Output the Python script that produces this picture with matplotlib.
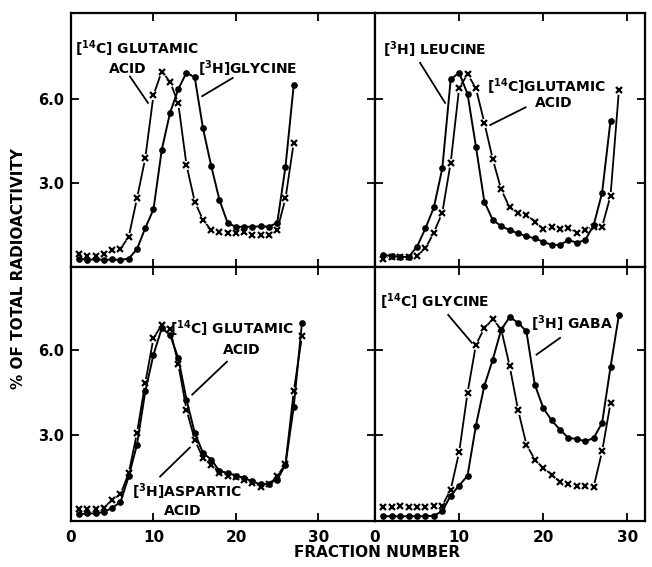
import matplotlib
matplotlib.use("Agg")
import matplotlib.pyplot as plt

plt.rcParams['font.family'] = ['DejaVu Sans']
plt.rcParams['font.weight'] = 'bold'
plt.rcParams['mathtext.default'] = 'bf'

# top left: [3H]glycine (dots) vs [14C]glutamic acid (crosses)
frac_tl = list(range(1, 28))
gly_3h = [0.3, 0.25, 0.28, 0.25, 0.27, 0.25, 0.3, 0.64, 1.39, 2.06, 4.18, 5.5, 6.35, 6.94,
          6.77, 4.95, 3.6, 2.39, 1.56, 1.44, 1.43, 1.44, 1.45, 1.44, 1.58, 3.58, 6.5]
glu_14c_tl = [0.45, 0.4, 0.4, 0.45, 0.6, 0.65, 1.08, 2.45, 3.88, 6.14, 6.98, 6.62, 5.85, 3.64,
              2.33, 1.68, 1.32, 1.26, 1.2, 1.22, 1.26, 1.14, 1.14, 1.14, 1.32, 2.45, 4.44]

# top right: [3H]leucine vs [14C]glutamic acid
frac_leu = list(range(1, 29))
leu_3h = [0.42, 0.4, 0.36, 0.36, 0.73, 1.38, 2.13, 3.52, 6.7, 6.94, 6.18, 4.3, 2.33, 1.68,
          1.46, 1.32, 1.2, 1.1, 1.02, 0.9, 0.79, 0.79, 0.96, 0.87, 0.96, 1.5, 2.65, 5.23]
frac_glu_tr = list(range(1, 30))
glu_14c_tr = [0.3, 0.35, 0.35, 0.35, 0.4, 0.67, 1.23, 1.94, 3.73, 6.38, 6.89, 6.38, 5.15, 3.85,
              2.77, 2.13, 1.92, 1.86, 1.62, 1.35, 1.44, 1.35, 1.39, 1.23, 1.32, 1.44, 1.44,
              2.54, 6.32]

# bottom left: [3H]aspartic acid vs [14C]glutamic acid
frac_bl = list(range(1, 29))
asp_3h = [0.22, 0.25, 0.25, 0.3, 0.45, 0.65, 1.56, 2.68, 4.55, 5.85, 6.78, 6.55, 5.73, 4.26,
          3.09, 2.38, 2.15, 1.74, 1.68, 1.58, 1.5, 1.38, 1.27, 1.3, 1.44, 1.97, 4.02, 6.98]
glu_14c_bl = [0.42, 0.42, 0.4, 0.45, 0.74, 0.92, 1.68, 3.09, 4.85, 6.43, 6.9, 6.75, 5.53, 3.9,
              2.85, 2.2, 1.97, 1.68, 1.58, 1.53, 1.42, 1.33, 1.19, 1.27, 1.56, 2.0, 4.55, 6.5]

# bottom right: [3H]GABA vs [14C]glycine
frac_gaba = list(range(1, 30))
gaba_3h = [0.15, 0.15, 0.15, 0.15, 0.15, 0.15, 0.17, 0.33, 0.88, 1.23, 1.58, 3.35, 4.75, 5.67,
           6.73, 7.17, 6.98, 6.67, 4.79, 3.97, 3.53, 3.2, 2.91, 2.88, 2.79, 2.91, 3.44, 5.41, 7.25]
frac_gly_br = list(range(1, 29))
gly_14c = [0.48, 0.48, 0.52, 0.48, 0.48, 0.48, 0.5, 0.52, 1.09, 2.4, 4.5, 6.2, 6.78, 7.1,
           6.75, 5.46, 3.91, 2.68, 2.15, 1.85, 1.62, 1.35, 1.27, 1.21, 1.21, 1.19, 2.44, 4.14]

xticks = [0, 10, 20, 30]
yticks = [3.0, 6.0]
ytick_labels = ["3.0", "6.0"]


def draw_dots(ax, x, y):
    ax.plot(x, y, color='black', lw=1.4, marker='o', ms=3.8, zorder=5)


def draw_crosses(ax, x, y):
    # line broken around each cross
    ax.plot(x, y, color='black', lw=1.3, zorder=2)
    ax.plot(x, y, ls='none', marker='o', ms=6.5, mfc='white', mec='none', zorder=3)
    ax.plot(x, y, ls='none', marker='x', ms=4.5, mew=1.6, color='black', zorder=4)


def label(ax, line1, line2, x1, y1, x2, y2, lx1, ly1, lx2, ly2):
    ax.text(x1, y1, line1, ha='left', va='center', fontsize=10, zorder=6)
    if line2:
        ax.text(x2, y2, line2, ha='center', va='center', fontsize=10, zorder=6)
    ax.plot([lx1, lx2], [ly1, ly2], color='black', lw=1.3, zorder=6)


fig = plt.figure(figsize=(6.52, 5.67), dpi=100)
L, M, R = 71 / 652, 375 / 652, 645 / 652
T, H, B = 1 - 12.7 / 567, 1 - 267 / 567, 1 - 520.5 / 567
ax_tl = fig.add_axes([L, H, M - L, T - H])
ax_tr = fig.add_axes([M, H, R - M, T - H])
ax_bl = fig.add_axes([L, B, M - L, H - B])
ax_br = fig.add_axes([M, B, R - M, H - B])

draw_crosses(ax_tl, frac_tl, glu_14c_tl)
draw_dots(ax_tl, frac_tl, gly_3h)
label(ax_tl, r"[$^{14}$C] GLUTAMIC", "ACID", 0.5, 7.8, 6.9, 7.08, 7.15, 6.8, 9.33, 5.86)
label(ax_tl, r"[$^{3}$H]GLYCINE", None, 15.4, 7.07, 0, 0, 19.6, 6.75, 15.9, 6.1)

draw_crosses(ax_tr, frac_glu_tr, glu_14c_tr)
draw_dots(ax_tr, frac_leu, leu_3h)
label(ax_tr, r"[$^{3}$H] LEUCINE", None, 0.95, 7.75, 0, 0, 5.36, 7.29, 8.33, 5.86)
label(ax_tr, r"[$^{14}$C]GLUTAMIC", "ACID", 13.3, 6.45, 21.2, 5.85, 17.9, 5.7, 13.7, 5.07)

draw_crosses(ax_bl, frac_bl, glu_14c_bl)
draw_dots(ax_bl, frac_bl, asp_3h)
label(ax_bl, r"[$^{14}$C] GLUTAMIC", "ACID", 12.0, 6.75, 20.7, 6.02, 18.9, 5.6, 14.7, 4.44)
label(ax_bl, r"[$^{3}$H]ASPARTIC", "ACID", 7.4, 1.02, 13.6, 0.32, 10.8, 1.55, 14.4, 2.57)

draw_crosses(ax_br, frac_gly_br, gly_14c)
draw_dots(ax_br, frac_gaba, gaba_3h)
label(ax_br, r"[$^{14}$C] GLYCINE", None, 0.6, 7.73, 0, 0, 8.7, 7.25, 11.5, 6.27)
label(ax_br, r"[$^{3}$H] GABA", None, 18.5, 6.95, 0, 0, 22.0, 6.44, 19.2, 5.85)

for ax in [ax_tl, ax_bl]:
    ax.set_xlim(0, 36.85)
for ax in [ax_tr, ax_br]:
    ax.set_xlim(0, 32.1)
for ax in [ax_tl, ax_tr]:
    ax.set_ylim(0, 9.08)
for ax in [ax_bl, ax_br]:
    ax.set_ylim(0, 8.94)

for ax in [ax_tl, ax_tr, ax_bl, ax_br]:
    ax.set_xticks(xticks)
    ax.set_yticks(yticks)
    ax.tick_params(direction='in', top=True, right=True, length=5.5, width=1.3,
                   labelsize=10.5, pad=5)
    for s in ax.spines.values():
        s.set_linewidth(1.6)

for ax in [ax_tl, ax_tr]:
    ax.tick_params(labelbottom=False)
for ax in [ax_tr, ax_br]:
    ax.tick_params(labelleft=False)
for ax in [ax_tl, ax_bl]:
    ax.set_yticklabels(ytick_labels)
for ax in [ax_bl, ax_br]:
    ax.set_xticklabels([str(t) for t in xticks])
    ax.tick_params(axis='x', labelsize=11, pad=7)

fig.text(0.578, 0.025, "FRACTION NUMBER", ha='center', va='center', fontsize=11)
fig.text(19 / 652, 1 - 269 / 567, "% OF TOTAL RADIOACTIVITY", ha='center', va='center',
         rotation=90, fontsize=11)

fig.savefig("out.png", dpi=100)
